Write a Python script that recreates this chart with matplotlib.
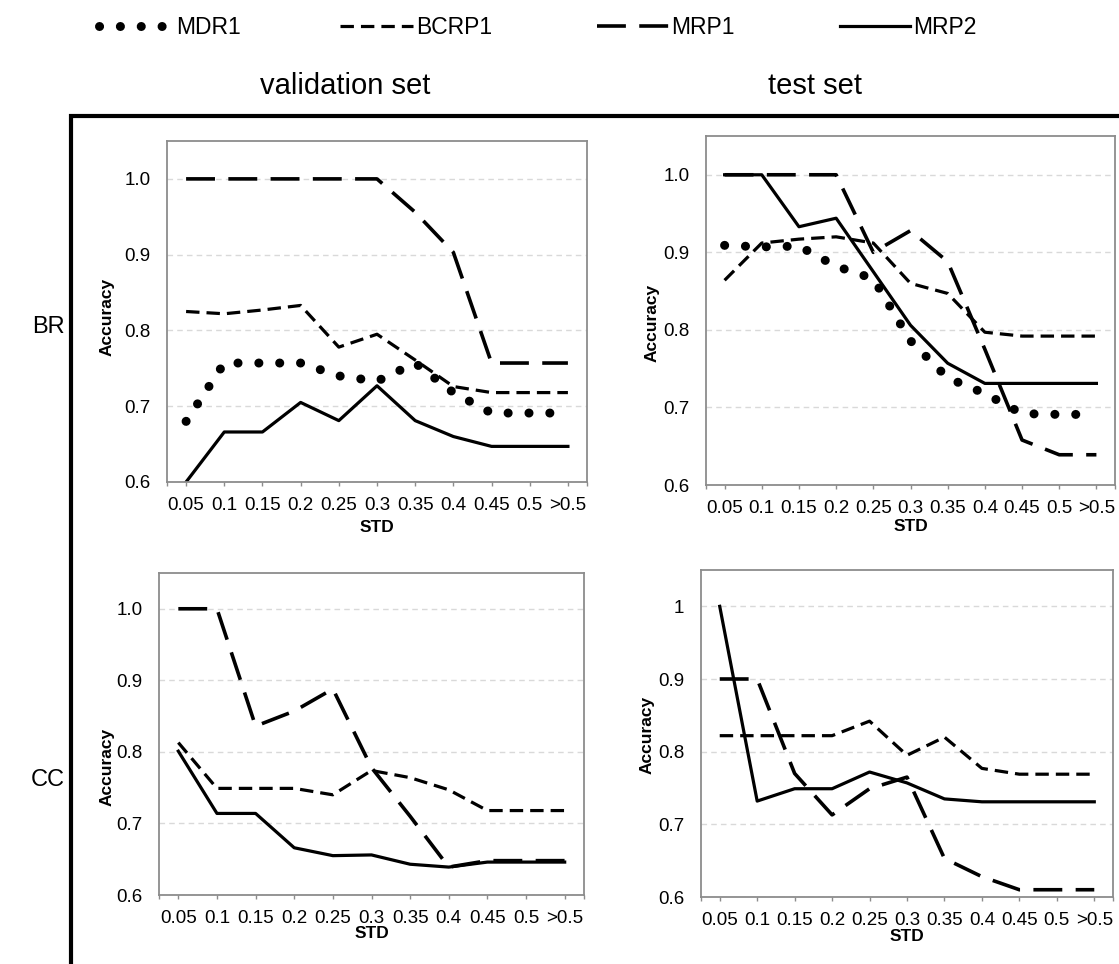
import numpy as np
import matplotlib
matplotlib.use('Agg')
import matplotlib.pyplot as plt
from matplotlib.lines import Line2D

plt.rcParams['font.family'] = ['Liberation Sans', 'DejaVu Sans']

# x categories (STD bins)
std_labels = ['0.05', '0.1', '0.15', '0.2', '0.25', '0.3', '0.35', '0.4', '0.45', '0.5', '>0.5']

# BR, validation set
br_val_mdr1 = [0.680, 0.757, 0.757, 0.757, 0.740, 0.733, 0.757, 0.718, 0.691, 0.691, 0.691]
br_val_bcrp1 = [0.825, 0.822, 0.827, 0.833, 0.778, 0.795, 0.761, 0.726, 0.718, 0.718, 0.718]
br_val_mrp1 = [1.0, 1.0, 1.0, 1.0, 1.0, 1.0, 0.956, 0.903, 0.757, 0.757, 0.757]
br_val_mrp2 = [0.600, 0.666, 0.666, 0.705, 0.681, 0.727, 0.681, 0.660, 0.647, 0.647, 0.647]

# BR, test set
br_test_mdr1 = [0.909, 0.907, 0.908, 0.882, 0.866, 0.786, 0.738, 0.718, 0.692, 0.691, 0.691]
br_test_bcrp1 = [0.864, 0.912, 0.917, 0.920, 0.912, 0.860, 0.847, 0.797, 0.792, 0.792, 0.792]
br_test_mrp1 = [1.0, 1.0, 1.0, 1.0, 0.900, 0.928, 0.888, 0.775, 0.658, 0.639, 0.639]
br_test_mrp2 = [1.0, 1.0, 0.933, 0.944, 0.875, 0.806, 0.757, 0.731, 0.731, 0.731, 0.731]

# CC, validation set
cc_val_bcrp1 = [0.813, 0.749, 0.749, 0.749, 0.740, 0.774, 0.764, 0.747, 0.718, 0.718, 0.718]
cc_val_mrp1 = [1.0, 1.0, 0.836, 0.857, 0.888, 0.778, 0.710, 0.639, 0.648, 0.648, 0.648]
cc_val_mrp2 = [0.801, 0.714, 0.714, 0.666, 0.655, 0.656, 0.643, 0.639, 0.646, 0.646, 0.646]

# CC, test set
cc_test_bcrp1 = [0.822, 0.822, 0.822, 0.822, 0.842, 0.795, 0.820, 0.777, 0.769, 0.769, 0.769]
cc_test_mrp1 = [0.9, 0.9, 0.770, 0.713, 0.749, 0.765, 0.653, 0.628, 0.610, 0.610, 0.610]
cc_test_mrp2 = [1.0, 0.732, 0.749, 0.749, 0.772, 0.757, 0.735, 0.731, 0.731, 0.731, 0.731]

y_ticks = [0.6, 0.7, 0.8, 0.9, 1.0]

styles = {
    'MDR1': dict(lw=6.5, ls=(0, (0.01, 2.3)), dash_capstyle='round'),
    'BCRP1': dict(lw=2.3, ls=(0, (4.2, 2.2))),
    'MRP1': dict(lw=2.6, ls=(0, (8.0, 3.7))),
    'MRP2': dict(lw=2.3, ls='-'),
}

GREY = '#8c8c8c'
W, H = 1119, 964

fig = plt.figure(figsize=(W / 100, H / 100), dpi=100)


def px_rect(x0, y0, x1, y1):
    return [x0 / W, 1 - y1 / H, (x1 - x0) / W, (y1 - y0) / H]


def draw_panel(rect, series, ytick_labels, ylab_pos, xlab_y):
    ax = fig.add_axes(rect)
    x = np.arange(len(std_labels))
    lines = {}
    for name, vals in series:
        lines[name], = ax.plot(x, vals, color='black', label=name, **styles[name])
    ax.set_xlim(-0.5, 10.5)
    ax.set_ylim(0.6, 1.05)
    ax.set_xticks(x)
    ax.set_xticklabels(std_labels)
    ax.set_xticks([-0.5, 10.5], minor=True)
    ax.set_yticks(y_ticks)
    ax.set_yticklabels(ytick_labels)
    ax.tick_params(axis='x', which='both', length=3, width=1, color=GREY, pad=8, labelsize=13.5)
    ax.tick_params(axis='y', length=0, pad=12, labelsize=13.5)
    ax.yaxis.grid(True, color='#d9d9d9', ls=(0, (4, 3)), lw=1)
    ax.set_axisbelow(True)
    for sp in ax.spines.values():
        sp.set_color(GREY)
        sp.set_linewidth(1.3)
    ax.set_ylabel('Accuracy', fontsize=12.5, fontweight='bold', va='center')
    ax.yaxis.set_label_coords(*ylab_pos)
    ax.set_xlabel('STD', fontsize=12.5, fontweight='bold', va='center')
    ax.xaxis.set_label_coords(0.5, xlab_y)
    return ax, lines


lab10 = ['0.6', '0.7', '0.8', '0.9', '1.0']
lab1 = ['0.6', '0.7', '0.8', '0.9', '1']

ax1, handles = draw_panel(px_rect(167, 141, 587, 482),
                          [('MDR1', br_val_mdr1), ('BCRP1', br_val_bcrp1),
                           ('MRP1', br_val_mrp1), ('MRP2', br_val_mrp2)],
                          lab10, (-0.143, 0.484), -0.132)
ax2, _ = draw_panel(px_rect(706, 136, 1115, 485),
                    [('MDR1', br_test_mdr1), ('BCRP1', br_test_bcrp1),
                     ('MRP1', br_test_mrp1), ('MRP2', br_test_mrp2)],
                    lab10, (-0.132, 0.464), -0.120)
ax3, _ = draw_panel(px_rect(159, 573, 584, 895),
                    [('BCRP1', cc_val_bcrp1), ('MRP1', cc_val_mrp1), ('MRP2', cc_val_mrp2)],
                    lab10, (-0.122, 0.397), -0.121)
ax4, _ = draw_panel(px_rect(701, 570, 1113, 897),
                    [('BCRP1', cc_test_bcrp1), ('MRP1', cc_test_mrp1), ('MRP2', cc_test_mrp2)],
                    lab1, (-0.131, 0.495), -0.122)

# legend row: one small legend per series so they sit where the original has them
leg_x = {'MDR1': 99, 'BCRP1': 340, 'MRP1': 597, 'MRP2': 840}
leg_len = {'MDR1': 2.8, 'BCRP1': 3.2, 'MRP1': 3.15, 'MRP2': 3.05}
leg_pad = {'MDR1': 0.55, 'BCRP1': 0.1, 'MRP1': 0.1, 'MRP2': 0.15}
for name in ['MDR1', 'BCRP1', 'MRP1', 'MRP2']:
    fig.legend(handles=[handles[name]], loc='center left',
               bbox_to_anchor=(leg_x[name] / W, 1 - 28 / H),
               frameon=False, fontsize=16.5, borderpad=0, borderaxespad=0,
               handlelength=leg_len[name], handletextpad=leg_pad[name])

fig.text(345 / W, 1 - 86 / H, 'validation set', ha='center', va='center', fontsize=21)
fig.text(815 / W, 1 - 86 / H, 'test set', ha='center', va='center', fontsize=21)
fig.text(48 / W, 1 - 327 / H, 'BR', ha='center', va='center', fontsize=17)
fig.text(48 / W, 1 - 780 / H, 'CC', ha='center', va='center', fontsize=17)

# thick black bracket round the grid of panels
fig.add_artist(Line2D([71 / W, 71 / W, 1.0], [0.0, 1 - 115.5 / H, 1 - 115.5 / H],
                      color='black', lw=3, transform=fig.transFigure,
                      solid_joinstyle='miter'))

fig.savefig('out.png', dpi=100)
